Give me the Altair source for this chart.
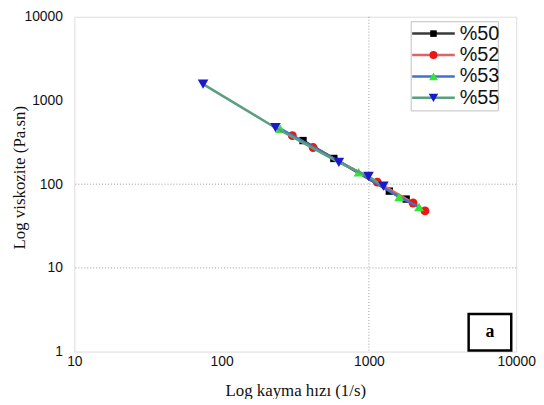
import altair as alt
import pandas as pd

# ---- data ----
series_names = ["%50", "%52", "%53", "%55"]
x50 = [357, 578, 1376, 1790]
y50 = [332, 203, 82.6, 66.4]
x52 = [302, 418, 1140, 1995, 2404]
y52 = [380, 274, 106, 59.6, 47.9]
x53 = [250, 851, 1606, 2189]
y53 = [460, 139, 70.2, 53.4]
x55 = [74.8, 232, 625, 994, 1254]
y55 = [1567, 473, 182, 124, 94.7]

xs = [x50, x52, x53, x55]
ys = [y50, y52, y53, y55]

line_colors = ["#3a3a3a", "#e06464", "#4472c4", "#5b9e80"]
marker_colors = ["#000000", "#ee1515", "#33e633", "#1a1acc"]
marker_shapes = ["square", "circle", "triangle-up", "triangle-down"]
marker_sizes = [55, 80, 100, 115]

x_ticks = [10, 100, 1000, 10000]
y_ticks = [1, 10, 100, 1000, 10000]
x_grid = [1000]
y_grid = [10, 100]

W, H = 446, 338

xscale = alt.Scale(type="log", domain=[10, 10000], nice=False)
yscale = alt.Scale(type="log", domain=[1, 10000], nice=False)

x_axis = alt.Axis(values=x_ticks, format="d", grid=False, ticks=False, labelFlush=False,
                  labelFont="Liberation Sans", labelFontSize=14, labelColor="#111",
                  labelPadding=3, title="Log kayma hızı (1/s)",
                  titleFont="Liberation Serif", titleFontSize=17, titleFontWeight="normal",
                  titleColor="#111", titleY=39, titleBaseline="middle", domain=False)
y_axis = alt.Axis(values=y_ticks, format="d", grid=False, ticks=False, labelFlush=False,
                  labelFont="Liberation Sans", labelFontSize=14, labelColor="#111",
                  labelPadding=12, title="Log viskozite (Pa.sn)",
                  titleFont="Liberation Serif", titleFontSize=17, titleFontWeight="normal",
                  titleColor="#111", titleX=-55, titleY=162, titleAngle=-90,
                  titleAlign="center", titleBaseline="middle", domain=False)

layers = []

# grid lines
gx = pd.DataFrame({"g": x_grid})
gy = pd.DataFrame({"g": y_grid})
layers.append(alt.Chart(gx).mark_rule(color="#999", strokeDash=[1, 2], strokeWidth=1).encode(
    x=alt.X("g:Q", scale=xscale, axis=x_axis)))
layers.append(alt.Chart(gy).mark_rule(color="#999", strokeDash=[1, 2], strokeWidth=1).encode(
    y=alt.Y("g:Q", scale=yscale, axis=y_axis)))

for i, name in enumerate(series_names):
    df = pd.DataFrame({"x": xs[i], "y": ys[i], "s": name})
    base = alt.Chart(df).encode(
        x=alt.X("x:Q", scale=xscale, axis=x_axis),
        y=alt.Y("y:Q", scale=yscale, axis=y_axis),
    )
    layers.append(base.mark_line(color=line_colors[i], strokeWidth=2.5))
    layers.append(base.mark_point(shape=marker_shapes[i], filled=True, opacity=1,
                                  color=marker_colors[i], size=marker_sizes[i]))

# legend (built from series names, pixel positions via scale=None)
leg = pd.DataFrame({"s": series_names, "i": list(range(4)),
                    "lc": line_colors, "mc": marker_colors, "sh": marker_shapes})
leg_base = alt.Chart(leg).transform_calculate(
    py="17 + datum.i * 21.6", x1="341", x2="384")
layers.append(alt.Chart(pd.DataFrame({"a": [0]})).mark_rect(
    fill="white", stroke="#c0c0c0", strokeWidth=1).encode(
    x=alt.value(340), x2=alt.value(428), y=alt.value(5), y2=alt.value(95)))
layers.append(leg_base.mark_rule(strokeWidth=2.5).encode(
    x=alt.X("x1:Q", scale=None), x2="x2:Q", y=alt.Y("py:Q", scale=None),
    color=alt.Color("lc:N", scale=None)))
for i in range(4):
    layers.append(alt.Chart(leg.iloc[[i]]).transform_calculate(
        py="17 + datum.i * 21.6").mark_point(
        shape=marker_shapes[i], filled=True, opacity=1, color=marker_colors[i],
        size=marker_sizes[i] * 0.8).encode(
        x=alt.value(362.5), y=alt.Y("py:Q", scale=None)))
layers.append(leg_base.mark_text(align="left", baseline="middle", font="Liberation Sans",
                                 fontSize=20, color="#111").encode(
    x=alt.value(389), y=alt.Y("py:Q", scale=None), text="s:N"))

# "a" label box
layers.append(alt.Chart(pd.DataFrame({"t": ["a"]})).mark_rect(
    fill="white", stroke="#000", strokeWidth=2.5).encode(
    x=alt.value(398), x2=alt.value(441), y=alt.value(300), y2=alt.value(337)))
layers.append(alt.Chart(pd.DataFrame({"t": ["a"]})).mark_text(
    font="Liberation Serif", fontSize=18, fontWeight="bold", color="#000",
    baseline="middle", align="center").encode(
    x=alt.value(419.5), y=alt.value(318), text="t:N"))

chart = alt.layer(*layers).properties(
    width=W, height=H,
    autosize=alt.AutoSizeParams(type="none"),
    padding={"left": 67, "top": 7, "right": 20, "bottom": 46},
).configure_view(stroke="#111", strokeWidth=1.8).configure(background="white")

chart.save("out.html", embed_options={"renderer": "svg", "actions": False})
